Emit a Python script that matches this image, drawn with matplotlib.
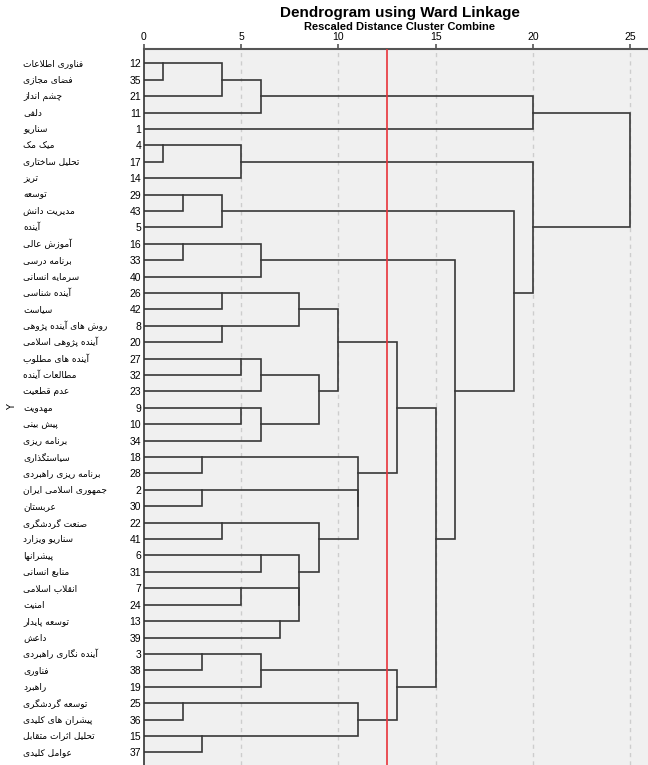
import math
import matplotlib
matplotlib.use("Agg")
import matplotlib.pyplot as plt
from matplotlib.transforms import blended_transform_factory

# leaf order as drawn (case numbers), top to bottom
leaf_ids = [12, 35, 21, 11, 1, 4, 17, 14, 29, 43, 5, 16, 33, 40, 26, 42, 8, 20,
            27, 32, 23, 9, 10, 34, 18, 28, 2, 30, 22, 41, 6, 31, 7, 24, 13, 39,
            3, 38, 19, 25, 36, 15, 37]

leaf_labels = ["فناوری اطلاعات", "فضای مجازی", "چشم انداز", "دلفی", "سناریو",
               "میک مک", "تحلیل ساختاری", "تریز", "توسعه", "مدیریت دانش", "آینده",
               "آموزش عالی", "برنامه درسی", "سرمایه انسانی", "آینده شناسی", "سیاست",
               "روش های آینده پژوهی", "آینده پژوهی اسلامی", "آینده های مطلوب",
               "مطالعات آینده", "عدم قطعیت", "مهدویت", "پیش بینی", "برنامه ریزی",
               "سیاستگذاری", "برنامه ریزی راهبردی", "جمهوری اسلامی ایران", "عربستان",
               "صنعت گردشگری", "سناریو ویزارد", "پیشرانها", "منابع انسانی",
               "انقلاب اسلامی", "امنیت", "توسعه پایدار", "داعش", "آینده نگاری راهبردی",
               "فناوری", "راهبرد", "توسعه گردشگری", "پیشران های کلیدی",
               "تحلیل اثرات متقابل", "عوامل کلیدی"]

# agglomeration schedule: cluster 1, cluster 2 (by first case), rescaled distance
merge_a = [12, 4, 29, 16, 25, 18, 2, 3, 15, 12, 29, 26, 8, 22, 4, 27, 9, 7,
           12, 16, 27, 9, 6, 3, 13, 26, 7, 6, 27, 22, 26, 25, 2, 18, 26, 3,
           26, 16, 29, 12, 4, 12]
merge_b = [35, 17, 43, 33, 36, 28, 30, 38, 37, 21, 5, 42, 20, 41, 14, 32, 10, 24,
           11, 40, 23, 34, 31, 19, 39, 8, 13, 7, 9, 6, 27, 15, 22, 2, 18, 25,
           3, 26, 16, 1, 29, 4]
merge_d = [1, 1, 2, 2, 2, 3, 3, 3, 3, 4, 4, 4, 4, 4, 5, 5, 5, 5,
           6, 6, 6, 6, 6, 6, 7, 8, 8, 8, 9, 9, 10, 11, 11, 11, 13, 13,
           15, 16, 19, 20, 20, 25]

x_ticks = [0, 5, 10, 15, 20, 25]
cut_line = 12.5

# --- simple persian shaping (matplotlib has no bidi / joining) ---
DUAL = {'ب': 0xFE8F, 'پ': 0xFB56, 'ت': 0xFE95, 'ث': 0xFE99, 'ج': 0xFE9D,
        'چ': 0xFB7A, 'ح': 0xFEA1, 'خ': 0xFEA5, 'س': 0xFEB1, 'ش': 0xFEB5,
        'ص': 0xFEB9, 'ض': 0xFEBD, 'ط': 0xFEC1, 'ظ': 0xFEC5, 'ع': 0xFEC9,
        'غ': 0xFECD, 'ف': 0xFED1, 'ق': 0xFED5, 'ک': 0xFB8E, 'گ': 0xFB92,
        'ل': 0xFEDD, 'م': 0xFEE1, 'ن': 0xFEE5, 'ه': 0xFEE9, 'ی': 0xFBFC}
RIGHT = {'ا': 0xFE8D, 'آ': 0xFE81, 'د': 0xFEA9, 'ذ': 0xFEAB, 'ر': 0xFEAD,
         'ز': 0xFEAF, 'ژ': 0xFB8A, 'و': 0xFEED}


def shape(txt):
    out = []
    i = 0
    while i < len(txt):
        c = txt[i]
        jp = 1 if (i > 0 and txt[i-1] in DUAL) else 0
        if c == 'ل' and i + 1 < len(txt) and txt[i+1] in 'اآ':
            base = 0xFEFB if txt[i+1] == 'ا' else 0xFEF5
            out.append(chr(base + jp))
            i += 2
            continue
        nx = txt[i+1] if i + 1 < len(txt) else ' '
        jn = 1 if (nx in DUAL or nx in RIGHT) else 0
        if c in DUAL:
            k = {(0, 0): 0, (1, 0): 1, (0, 1): 2, (1, 1): 3}[(jp, jn)]
            out.append(chr(DUAL[c] + k))
        elif c in RIGHT:
            out.append(chr(RIGHT[c] + jp))
        else:
            out.append(c)
        i += 1
    return ''.join(reversed(out))


fig = plt.figure(figsize=(6.48, 7.65), dpi=100)
ax = fig.add_axes([143.8/648, 0, 1 - 143.8/648, 1 - 49/765])
ax.set_facecolor('#f0f0f0')

# grid + cut line
for t in x_ticks[1:]:
    ax.axvline(t, color='#cdcdcd', lw=1, ls=(0, (3, 3)), zorder=1)
ax.axvline(cut_line, color='#e8333a', lw=1.2, zorder=3)

# dendrogram from the schedule
pos = {c: float(i) for i, c in enumerate(leaf_ids)}
hgt = {c: 0.0 for c in leaf_ids}
for a, b, d in zip(merge_a, merge_b, merge_d):
    ax.plot([hgt[a], d, d, hgt[b]], [pos[a], pos[a], pos[b], pos[b]],
            color='#383838', lw=1.2, solid_joinstyle='miter', zorder=2)
    pos[a] = math.floor((pos[a] + pos[b]) / 2)
    hgt[a] = d

ax.set_xlim(0, (648 - 143.8) / 19.46)
ax.set_ylim(42.77, -0.872)

ax.xaxis.tick_top()
ax.set_xticks(x_ticks)
ax.set_xticklabels([str(t) for t in x_ticks], fontsize=7.5, family='Liberation Sans')
ax.tick_params(axis='x', length=3.6, width=1.2, color='#555555', pad=1.8)
ax.set_yticks(range(len(leaf_ids)))
ax.set_yticklabels([str(c) for c in leaf_ids], fontsize=7.5, family='Liberation Sans')
ax.tick_params(axis='y', length=0, pad=2)

for s in ['right', 'bottom']:
    ax.spines[s].set_visible(False)
ax.spines['top'].set_color('#555555')
ax.spines['top'].set_linewidth(1.5)
ax.spines['left'].set_color('#333333')
ax.spines['left'].set_linewidth(1.2)

tr = blended_transform_factory(fig.transFigure, ax.transData)
for i, lab in enumerate(leaf_labels):
    fig.text(23/648, i, shape(lab), transform=tr, ha='left', va='center',
             fontsize=6.5, family='DejaVu Sans')

fig.text(12/648, 1 - 407/765, 'Y', rotation=90, ha='center', va='center', fontsize=7)

fig.text(400/648, 1 - 12.5/765, 'Dendrogram using Ward Linkage', ha='center', va='center',
         fontsize=11, fontweight='bold', family='Liberation Sans')
fig.text(400/648, 1 - 26.5/765, 'Rescaled Distance Cluster Combine', ha='center', va='center',
         fontsize=8, fontweight='bold', family='Liberation Sans')

fig.savefig('out.png', dpi=100)
